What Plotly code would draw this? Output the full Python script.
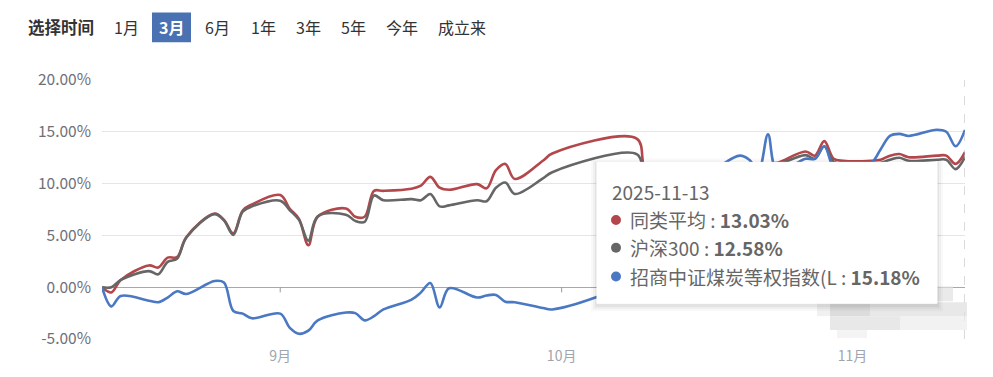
import plotly.graph_objects as go

# ---------------- data ----------------
dates = [
    "2025-08-13", "2025-08-14", "2025-08-15", "2025-08-18", "2025-08-19", "2025-08-20", "2025-08-21",
    "2025-08-22", "2025-08-25", "2025-08-26", "2025-08-27", "2025-08-28", "2025-08-29",
    "2025-09-01", "2025-09-02", "2025-09-03", "2025-09-04", "2025-09-05", "2025-09-08", "2025-09-09",
    "2025-09-10", "2025-09-11", "2025-09-12", "2025-09-15", "2025-09-16", "2025-09-17", "2025-09-18",
    "2025-09-19", "2025-09-22", "2025-09-23", "2025-09-24", "2025-09-25", "2025-09-26", "2025-09-29",
    "2025-09-30",
    "2025-10-09", "2025-10-10", "2025-10-13", "2025-10-14", "2025-10-15", "2025-10-16", "2025-10-17",
    "2025-10-20", "2025-10-21", "2025-10-22", "2025-10-23", "2025-10-24", "2025-10-27", "2025-10-28",
    "2025-10-29", "2025-10-30", "2025-10-31",
    "2025-11-03", "2025-11-04", "2025-11-05", "2025-11-06", "2025-11-07", "2025-11-10", "2025-11-11",
    "2025-11-12", "2025-11-13",
]

peer_avg = [  # 同类平均
    0.0, -0.5, 0.7, 2.1, 1.9, 2.85, 2.9, 4.85, 7.1, 6.5, 5.2, 7.4, 8.0,
    8.9, 7.6, 6.6, 4.05, 6.8, 7.6, 6.8, 6.8, 9.3, 9.3, 9.5, 9.8, 10.65, 9.6, 9.4, 9.95, 9.55,
    11.3, 11.9, 10.45, 12.2, 12.9,
    14.35, 11.2, 10.4, 11.0, 10.6, 11.3, 10.8, 11.4, 11.8, 11.5, 11.9, 12.0, 13.1, 12.7, 14.1,
    12.4, 12.2,
    12.2, 12.3, 12.7, 12.85, 12.55, 12.7, 12.7, 11.9, 13.03,
]

hs300 = [  # 沪深300
    0.0, 0.0, 0.7, 1.55, 1.25, 2.45, 2.75, 4.8, 7.05, 6.45, 5.05, 7.3, 7.8,
    8.35, 7.45, 6.5, 4.5, 6.85, 7.0, 6.4, 6.3, 8.85, 8.4, 8.5, 8.4, 9.0, 7.8, 7.9, 8.4, 8.3,
    9.6, 10.1, 9.0, 10.5, 11.1,
    12.85, 10.8, 10.0, 10.6, 10.3, 10.9, 10.4, 11.0, 11.4, 11.2, 11.6, 11.8, 12.75, 12.4, 13.6,
    12.1, 11.9,
    11.9, 12.0, 12.3, 12.5, 12.2, 12.3, 12.3, 11.4, 12.58,
]

coal_index = [  # 招商中证煤炭等权指数(LOF)
    0.0, -1.85, -0.85, -1.3, -1.45, -1.0, -0.4, -0.65, 0.6, 0.45, -2.3, -2.55, -3.0,
    -2.55, -3.9, -4.5, -4.2, -3.2, -2.45, -2.5, -3.2, -2.8, -2.15, -1.2, -0.5, 0.4, -1.95, -0.1,
    -1.0, -0.8, -0.75, -1.4, -1.45, -2.0, -2.15,
    1.0, 3.5, 6.0, 8.5, 8.0, 9.8, 11.0, 12.7, 12.3, 11.3, 14.75, 11.2, 12.4, 12.4, 13.6, 11.6, 11.4,
    12.0, 13.3, 14.6, 14.8, 14.6, 15.2, 15.0, 13.6, 15.18,
]

series_names = ["同类平均", "沪深300", "招商中证煤炭等权指数(L"]
series_colors = ["#b3474b", "#666666", "#4a78c2"]
tooltip_date = "2025-11-13"
tooltip_values = ["13.03%", "12.58%", "15.18%"]

month_ticks = ["2025-09-01", "2025-10-01", "2025-11-01"]
month_labels = ["9月", "10月", "11月"]
y_ticks = [-5, 0, 5, 10, 15, 20]
y_labels = ["-5.00%", "0.00%", "5.00%", "10.00%", "15.00%", "20.00%"]

buttons = ["1月", "3月", "6月", "1年", "3年", "5年", "今年", "成立来"]
button_centers = [126, 171, 217, 263, 308, 353, 402, 462]
active_button = "3月"

# ---------------- layout helpers ----------------
OFF = 8                      # default page margin of the html body
W, H = 993 - OFF, 377 - OFF  # figure size so that the page fits the window
L, R, T, B = 102, 965, 80, 341  # plot area in window pixels
FONT = "Noto Sans CJK SC, Microsoft YaHei, sans-serif"


def px(x):
    return (x - L) / (R - L)


def py(y):
    return (B - y) / (B - T)


fig = go.Figure()
for name, vals, col in zip(series_names, [peer_avg, hs300, coal_index], series_colors):
    fig.add_trace(go.Scatter(
        x=dates, y=vals, name=name, mode="lines",
        line=dict(color=col, width=2.6, shape="spline", smoothing=1.0),
        hoverinfo="skip",
    ))

shapes = []
annotations = []

# month tick marks below the zero line
for d in month_ticks:
    shapes.append(dict(type="line", xref="x", yref="y", x0=d, x1=d, y0=0, y1=-0.5,
                       line=dict(color="#9a9a9a", width=1)))

# axis pointer
shapes.append(dict(type="line", xref="x", yref="paper", x0=dates[-1], x1=dates[-1], y0=0, y1=1,
                   line=dict(color="#b0b4bc", width=1, dash="dash")))

# blurred watermark patches (bottom right)
wm_blocks = [
    (930, 953, 288, 303, "rgba(225,225,225,0.7)"),
    (817, 830, 304, 318, "rgba(235,235,235,0.7)"),
    (830, 870, 304, 318, "rgba(205,205,205,0.7)"),
    (870, 967, 304, 318, "rgba(222,222,222,0.7)"),
    (830, 900, 318, 332, "rgba(222,222,222,0.7)"),
    (900, 967, 318, 332, "rgba(236,236,236,0.7)"),
    (837, 867, 332, 340, "rgba(240,240,240,0.7)"),
]
for x0, x1, y0, y1, c in wm_blocks:
    shapes.append(dict(type="rect", xref="paper", yref="paper", x0=px(x0), x1=px(x1),
                       y0=py(y1), y1=py(y0), fillcolor=c, line=dict(width=0), layer="above"))

# time selector
annotations.append(dict(xref="paper", yref="paper", x=px(26), y=py(27), xanchor="left", yanchor="middle",
                        text="<b>选择时间</b>", showarrow=False,
                        font=dict(family=FONT, size=16.5, color="#333333")))
for lab, cx in zip(buttons, button_centers):
    if lab == active_button:
        shapes.append(dict(type="rect", xref="paper", yref="paper", x0=px(152), x1=px(191),
                           y0=py(42), y1=py(12), fillcolor="#4a72b2", line=dict(width=0), layer="above"))
        txt = "<b>%s</b>" % lab
        colr = "#ffffff"
    else:
        txt = lab
        colr = "#333333"
    annotations.append(dict(xref="paper", yref="paper", x=px(cx), y=py(27), xanchor="center",
                            yanchor="middle", text=txt, showarrow=False,
                            font=dict(family=FONT, size=16, color=colr)))

# tooltip box with soft shadow
tx0, tx1, ty0, ty1 = 597, 937, 163, 305
for i, a in enumerate([0.025, 0.035, 0.05]):
    g = 6 - 2 * i
    shapes.append(dict(type="rect", xref="paper", yref="paper", x0=px(tx0 - g), x1=px(tx1 + g),
                       y0=py(ty1 + g + 2), y1=py(ty0 - g + 2), fillcolor="rgba(0,0,0,%s)" % a,
                       line=dict(width=0), layer="above"))
shapes.append(dict(type="rect", xref="paper", yref="paper", x0=px(tx0), x1=px(tx1),
                   y0=py(ty1), y1=py(ty0), fillcolor="#ffffff",
                   line=dict(color="#ffffff", width=1), layer="above"))
annotations.append(dict(xref="paper", yref="paper", x=px(610), y=py(192), xanchor="left", yanchor="middle",
                        text=tooltip_date, showarrow=False,
                        font=dict(family=FONT, size=19, color="#666666")))
row_y = [221, 249, 278]
for name, col, val, ry in zip(series_names, series_colors, tooltip_values, row_y):
    shapes.append(dict(type="circle", xref="paper", yref="paper", x0=px(611), x1=px(621),
                       y0=py(ry + 5), y1=py(ry - 5), fillcolor=col, line=dict(width=0), layer="above"))
    annotations.append(dict(xref="paper", yref="paper", x=px(628), y=py(ry), xanchor="left",
                            yanchor="middle", text="%s : <b>%s</b>" % (name, val), showarrow=False,
                            font=dict(family=FONT, size=19, color="#666666")))

fig.update_layout(
    width=W, height=H,
    margin=dict(l=L - OFF, r=W - (R - OFF), t=T - OFF, b=H - (B - OFF)),
    paper_bgcolor="#ffffff", plot_bgcolor="#ffffff",
    showlegend=False, hovermode=False,
    font=dict(family=FONT),
    shapes=shapes, annotations=annotations,
    xaxis=dict(
        type="date", range=[dates[0], dates[-1]],
        tickmode="array", tickvals=month_ticks, ticktext=month_labels,
        showgrid=False, zeroline=False, showline=False, ticks="",
        tickfont=dict(family=FONT, size=14, color="#a0a4ac"),
        ticklabelstandoff=7,
    ),
    yaxis=dict(
        range=[-5, 20], tickmode="array", tickvals=y_ticks, ticktext=y_labels,
        showgrid=True, gridcolor="#e0e6f1", gridwidth=1,
        zeroline=True, zerolinecolor="#a8a8a8", zerolinewidth=1,
        showline=False, ticks="",
        tickfont=dict(family=FONT, size=15.5, color="#6e7079"),
        ticklabelstandoff=10,
    ),
)

fig.write_html("out.html")
